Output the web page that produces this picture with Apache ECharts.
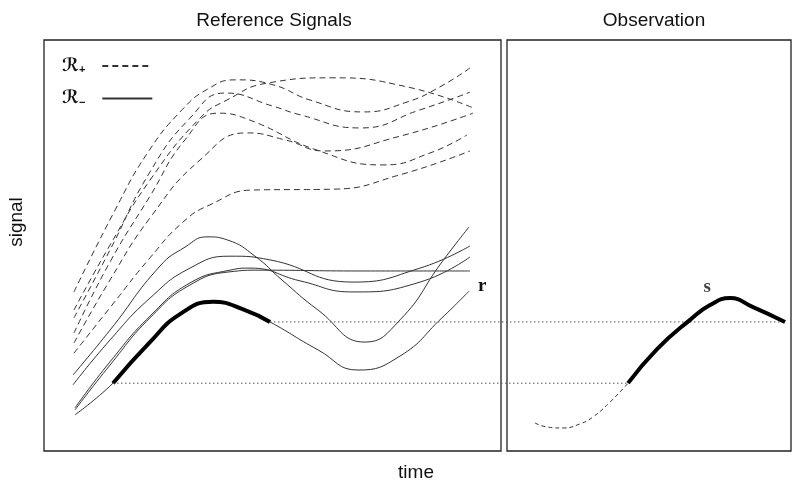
<!DOCTYPE html>
<html><head><meta charset="utf-8">
<script src="https://cdn.jsdelivr.net/npm/echarts@6/dist/echarts.min.js"></script>
<style>html,body{margin:0;padding:0;background:#fff}#c{width:792px;height:481px}</style>
</head><body><div id="c"></div>
<script>
// time scale is continuous: left panel 0..100, right panel 101.3..163.45
// R+ (dashed) reference signals: [time, signal]
const plusA = [[6.56,38.7],[15.54,58.6],[22.76,72.7],[30.20,83.0],[35.89,88.1],[41.79,90.3],[50.11,89.1],[58.21,85.4],[69.80,82.5],[79.43,84.9],[86.65,88.6],[93.22,93.2]];
const plusB = [[6.56,34.3],[14.44,50.1],[23.19,65.9],[34.14,81.0],[40.04,85.4],[48.80,89.5],[63.24,90.8],[79.43,88.6],[93.87,83.5]];
const plusC = [[6.56,32.4],[14.44,48.9],[23.19,67.9],[31.95,81.0],[39.61,87.1],[50.11,83.9],[56.02,81.8],[69.15,78.6],[82.28,83.0],[93.22,87.3]];
const plusD = [[6.56,28.7],[14.44,46.0],[23.19,62.0],[30.85,75.7],[38.07,82.2],[45.08,80.5],[59.74,73.2],[74.18,69.6],[84.46,72.5],[92.56,76.9]];
const plusE = [[6.56,26.3],[14.44,41.6],[23.19,56.7],[34.14,70.8],[44.42,77.4],[52.74,75.7],[61.49,73.0],[77.90,76.6],[93.87,82.2]];
const plusF = [[6.56,23.8],[14.88,35.5],[23.19,47.0],[30.42,55.7],[36.32,59.9],[45.73,63.5],[63.24,63.7],[77.90,67.2],[93.22,73.0]];
// R- (solid) reference signals
const minusA = [[6.35,18.5],[14.44,29.4],[25.38,45.0],[30.85,49.6],[35.67,52.1],[40.26,51.3],[46.17,47.4],[52.08,41.6],[59.96,34.3],[70.24,26.5],[77.90,31.9],[87.09,46.0],[93.00,54.5]];
const minusB = [[6.35,16.1],[14.44,27.0],[23.19,37.2],[31.95,44.5],[40.70,47.4],[49.45,46.5],[67.61,41.1],[82.28,44.5],[93.22,49.9]];
const minusC = [[6.78,10.0],[14.44,20.9],[23.19,32.4],[31.95,40.4],[40.70,43.6],[47.26,44.0],[69.15,43.8],[93.22,43.8]];
const minusD = [[6.78,10.5],[14.44,21.7],[23.19,32.8],[31.95,40.9],[40.70,44.0],[45.08,44.5],[56.02,41.4],[67.61,38.7],[82.28,41.1],[93.22,47.2]];
// matched reference signal r (R-)
const refR = [[6.78,8.8],[15.10,16.5],[23.19,26.5],[29.76,33.3],[36.98,36.3],[43.98,34.3],[49.45,31.4],[59.96,24.6],[68.71,19.7],[77.90,23.1],[87.09,32.4],[93.00,38.9]];
const refMatch = [1, 6];   // index range of r matched to s
// observation s
const obsS = [[107.44,6.8],[110.28,5.8],[113.57,5.6],[117.29,6.6],[120.13,8.3],[123.85,11.9],[127.79,16.5],[134.14,24.8],[141.36,31.9],[145.73,35.5],[150.11,37.2],[155.14,35.0],[162.14,31.4]];
const obsMatch = [6, 12];  // index range of s matched to r
const sLabelAt = [145.1, 39.9];

const dash = {color: '#333', width: 1, type: [6, 4]};
const solid = {color: '#333', width: 1};
const base = {type: 'line', smooth: true, symbol: 'none', silent: true, animation: false};

function line(name, data, style, grid, extra) {
  return Object.assign({}, base, {name, data, xAxisIndex: grid, yAxisIndex: grid, lineStyle: style,
    itemStyle: {color: style.color}}, extra || {});
}

const series = [];
[plusA, plusB, plusC, plusD, plusE, plusF].forEach(d => series.push(line('ℛ+', d, dash, 0)));
[minusA, minusB, minusC, minusD].forEach(d => series.push(line('ℛ-', d, solid, 0)));
series.push(line('ℛ-', refR, solid, 0, {
  endLabel: {show: true, formatter: 'r', fontFamily: 'Liberation Serif', fontWeight: 'bold',
             fontSize: 19, color: '#111', offset: [1, -5]}
}));
series.push(line('rMatch', refR.slice(refMatch[0], refMatch[1] + 1), {color: '#000', width: 4}, 0, {z: 3}));
// dotted connectors across both panels (overlay grid 2, same time scale)
[[refR[refMatch[0]], obsS[obsMatch[0]]], [refR[refMatch[1]], obsS[obsMatch[1]]]].forEach(pair => {
  series.push(line('link', pair, {color: '#555', width: 1, type: [1.5, 2.5]}, 2, {smooth: false}));
});
series.push(line('obs', obsS.slice(0, obsMatch[0] + 1), {color: '#333', width: 1, type: [4, 3]}, 1));
series.push(line('obsMatch', obsS.slice(obsMatch[0], obsMatch[1] + 1), {color: '#000', width: 4}, 1, {z: 3}));
series.push({
  name: 'sLabel', type: 'scatter', xAxisIndex: 1, yAxisIndex: 1, symbolSize: 0,
  data: [sLabelAt], silent: true, animation: false,
  label: {show: true, position: 'inside', formatter: 's', fontFamily: 'Liberation Serif',
          fontWeight: 'bold', fontSize: 19, color: '#111'}
});

const off = {show: false};
const font = 'Liberation Sans';
const txt = (text, x, y, extra) => Object.assign({
  type: 'text', x, y, silent: true,
  style: {text, textAlign: 'center', textVerticalAlign: 'middle', align: 'center', verticalAlign: 'middle',
          fontFamily: font, fontSize: 19, fill: '#111'}
}, extra || {});

const chart = echarts.init(document.getElementById('c'), null, {renderer: 'canvas'});
chart.setOption({
  animation: false,
  backgroundColor: '#fff',
  grid: [
    {left: 44, top: 40, width: 457, height: 411, show: true, borderColor: '#222', borderWidth: 1.3},
    {left: 507, top: 40, width: 284, height: 411, show: true, borderColor: '#222', borderWidth: 1.3},
    {left: 44, top: 40, width: 747, height: 411, show: false}
  ],
  xAxis: [
    Object.assign({gridIndex: 0, type: 'value', min: 0, max: 100}, off),
    Object.assign({gridIndex: 1, type: 'value', min: 101.3, max: 163.45}, off),
    Object.assign({gridIndex: 2, type: 'value', min: 0, max: 163.45}, off)
  ],
  yAxis: [0, 1, 2].map(i => Object.assign({gridIndex: i, type: 'value', min: 0, max: 100}, off)),
  legend: {
    data: ['ℛ+', 'ℛ-'], orient: 'vertical', left: 57, top: 52, align: 'right',
    itemWidth: 50, itemHeight: 16, itemGap: 14, selectedMode: false,
    itemStyle: {opacity: 0},
    formatter: n => n === 'ℛ+' ? '{r|ℛ}{s|+}' : '{r|ℛ}{s|−}',
    textStyle: {
      color: '#111',
      rich: {
        r: {fontFamily: 'DejaVu Sans', fontSize: 18, fontWeight: 'bold', fontStyle: 'italic', color: '#111'},
        s: {fontFamily: font, fontSize: 11, fontWeight: 'bold', color: '#111', padding: [8, 12, 0, 0]}
      }
    }
  },
  graphic: [
    txt('Reference Signals', 274, 21),
    txt('Observation', 654, 21),
    txt('time', 416, 473),
    txt('signal', 17, 222, {rotation: Math.PI / 2})
  ],
  series
});
</script>
</body></html>
